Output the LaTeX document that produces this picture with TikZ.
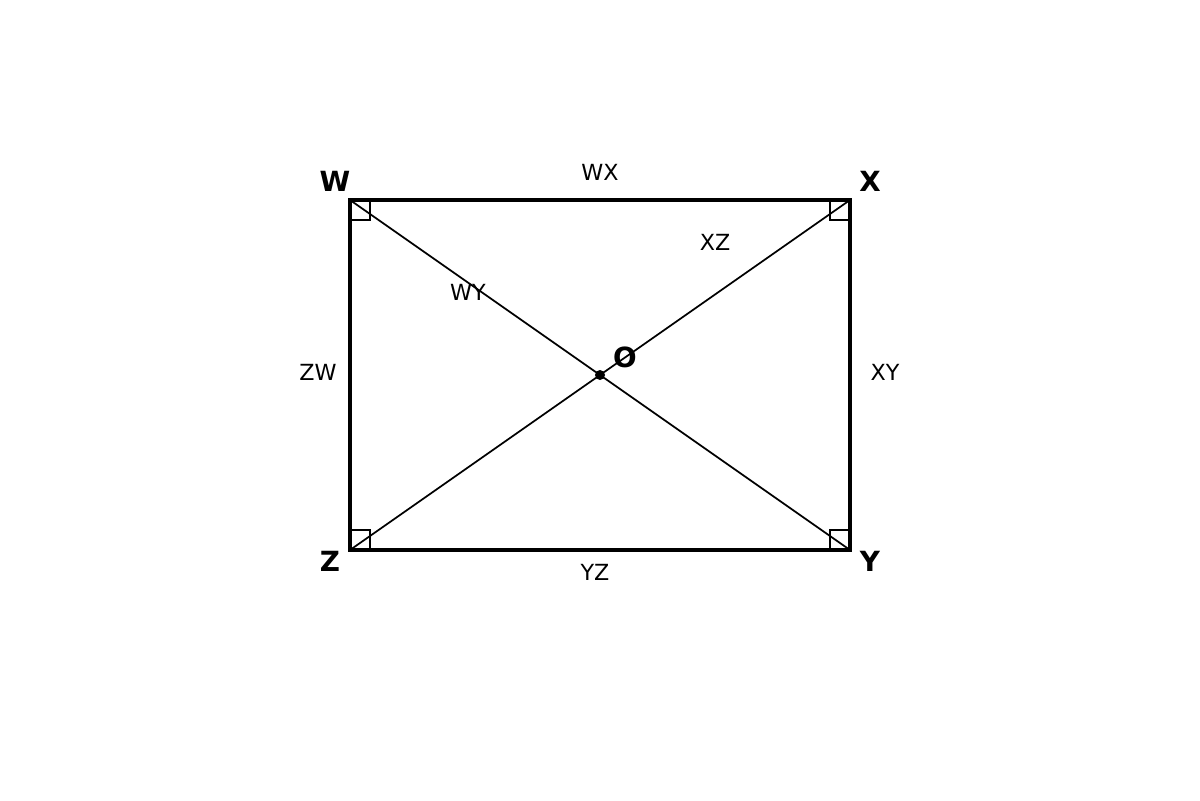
\documentclass[tikz,border=0pt]{standalone}
\usepackage{fontspec}
\setmainfont{DejaVu Sans}
\begin{document}
\begin{tikzpicture}[x=0.72pt,y=-0.72pt,
  vlabel/.style={font=\fontsize{20}{24}\selectfont\bfseries, inner sep=0pt},
  slabel/.style={font=\fontsize{16}{19}\selectfont, inner sep=0pt},
  side/.style={line width=2.2pt},
  diag/.style={line width=1.25pt},
  rmark/.style={line width=0.9pt}]
\useasboundingbox (0,0) rectangle (1200,800);
\coordinate (W) at (350,200);
\coordinate (X) at (850,200);
\coordinate (Y) at (850,550);
\coordinate (Z) at (350,550);
\coordinate (O) at (600,375);
\draw[diag] (W) -- (Y);
\draw[diag] (X) -- (Z);
\draw[rmark] (W) ++(20,0) -- ++(0,20) -- ++(-20,0);
\draw[rmark] (X) ++(-20,0) -- ++(0,20) -- ++(20,0);
\draw[rmark] (Y) ++(-20,0) -- ++(0,-20) -- ++(20,0);
\draw[rmark] (Z) ++(20,0) -- ++(0,-20) -- ++(-20,0);
\draw[side] (W) -- (X) -- (Y) -- (Z) -- cycle;
\fill (O) circle[radius=5];
\node[vlabel] (lW) at (335,181) {W};
\node[vlabel] (lX) at (870,181) {X};
\node[vlabel] (lY) at (870,561) {Y};
\node[vlabel] (lZ) at (330,561) {Z};
\node[vlabel] (lO) at (625,357) {O};
\node[slabel] (lWX) at (600,172) {WX};
\node[slabel] (lXZ) at (715,242) {XZ};
\node[slabel] (lWY) at (468,292) {WY};
\node[slabel] (lZW) at (318,372) {ZW};
\node[slabel] (lXY) at (885,372) {XY};
\node[slabel] (lYZ) at (595,572) {YZ};
\end{tikzpicture}
\end{document}
